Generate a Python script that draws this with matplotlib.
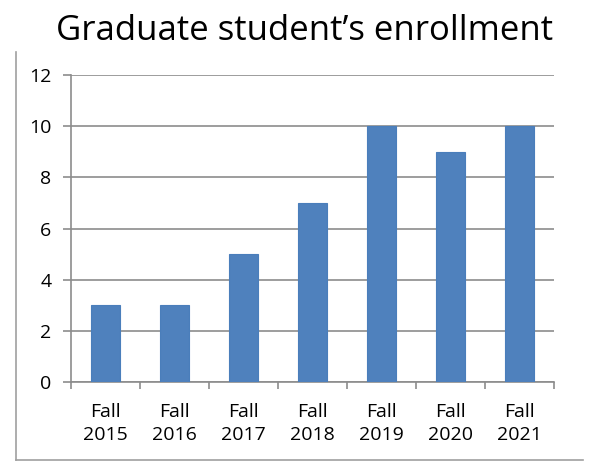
import matplotlib
matplotlib.use("Agg")
import matplotlib.pyplot as plt
from matplotlib.lines import Line2D
import numpy as np

categories = ["Fall\n2015", "Fall\n2016", "Fall\n2017", "Fall\n2018", "Fall\n2019", "Fall\n2020", "Fall\n2021"]
values = [3, 3, 5, 7, 10, 9, 10]
yticks = [0, 2, 4, 6, 8, 10, 12]
title = "Graduate student\u2019s enrollment"

plt.rcParams['font.family'] = ['Open Sans', 'DejaVu Sans']

fig = plt.figure(figsize=(6, 4.75), dpi=100)
ax = fig.add_axes([71/600, 1-382/475, (554-71)/600, (382-75)/475])

x = np.arange(len(categories))
ax.bar(x, values, width=0.41, color="#4F81BD", edgecolor="#4A7EBB", linewidth=0.8, zorder=3)

grid_c = "#8C8C8C"
ax.set_ylim(0, 12)
ax.set_xlim(-0.5, len(categories) - 0.5)
ax.set_yticks(yticks)
ax.set_yticklabels([str(v) for v in yticks])
ax.yaxis.grid(True, color=grid_c, linewidth=1.2, zorder=0)
ax.set_axisbelow(True)

ax.set_xticks(x)
ax.set_xticklabels(categories, linespacing=1.4)
ax.set_xticks(np.arange(-0.5, len(categories), 1.0), minor=True)
ax.tick_params(axis='x', which='major', length=0, pad=15, labelsize=14, labelcolor="#000000")
ax.tick_params(axis='x', which='minor', length=5, width=1.2, color=grid_c, direction='out')
ax.tick_params(axis='y', which='major', length=6, width=1.2, color=grid_c, pad=8, labelsize=14)

for s in ['top', 'right']:
    ax.spines[s].set_visible(False)
for s in ['left', 'bottom']:
    ax.spines[s].set_color(grid_c)
    ax.spines[s].set_linewidth(1.2)

fig.text(0.508, 1-40/475, title, ha='center', va='baseline', fontsize=25, color="#000000")

frame_c = "#A0A0A0"
fig.add_artist(Line2D([16/600, 16/600], [1-52/475, 1-460/475], color=frame_c, linewidth=1.2, transform=fig.transFigure))
fig.add_artist(Line2D([16/600, 583/600], [1-460/475, 1-460/475], color=frame_c, linewidth=1.2, transform=fig.transFigure))

fig.savefig("out.png", dpi=100, facecolor="white")
